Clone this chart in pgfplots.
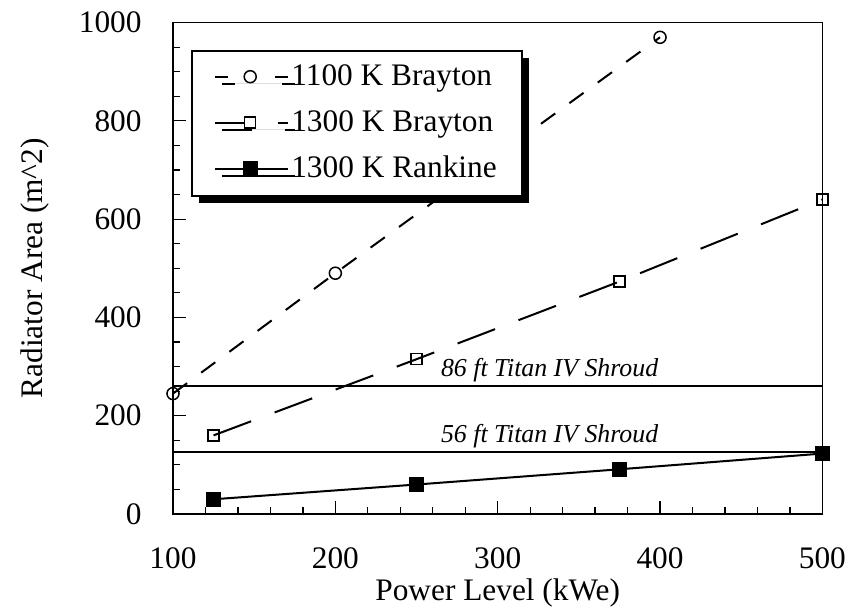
\documentclass[border=0pt]{standalone}
\usepackage{pgfplots}
\pgfplotsset{compat=1.18}
\usepackage{fontspec}
\setmainfont{Liberation Serif}
\usetikzlibrary{shadows}

\begin{document}
\begin{tikzpicture}
\useasboundingbox (-69pt,-37pt) rectangle (274pt,205pt);
\begin{axis}[
  at={(0,0)}, anchor=south west,
  scale only axis, width=259pt, height=196pt,
  xmin=100, xmax=500, ymin=0, ymax=1000,
  clip=false,
  xtick={100,200,...,500}, ytick={0,200,...,1000},
  minor x tick num=4, minor y tick num=3,
  tick pos=left, tick align=inside,
  major tick length=5pt, minor tick length=2.8pt,
  axis line style={line width=0.5pt},
  every tick/.style={black, line width=0.5pt},
  /pgf/number format/assume math mode=true,
  /pgf/number format/1000 sep={},
  tick label style={font=\fontsize{12.5}{14}\selectfont},
  xticklabel style={yshift=-10pt},
  yticklabel style={xshift=-9pt},
  xlabel={Power Level (kWe)},
  ylabel={Radiator Area (m\textasciicircum 2)},
  label style={font=\fontsize{12.5}{15}\selectfont},
  xlabel style={at={(axis description cs:0.5,-0.161)}, anchor=center},
  ylabel style={at={(axis description cs:-0.212,0.5)}, anchor=center},
  legend image code/.code={\draw[mark repeat=2,mark phase=2,#1] plot coordinates {(0pt,0pt)(14pt,0pt)(29pt,0pt)};},
  legend cell align=left,
  legend style={at={(axis description cs:0.027,0.945)}, anchor=north west,
    draw=black, line width=0.8pt, fill=white,
    drop shadow={shadow xshift=2.8pt, shadow yshift=-2.8pt, fill=black, opacity=1},
    font=\fontsize{12.5}{14}\selectfont,
    nodes={inner xsep=1pt, inner ysep=2.5pt},
    row sep=3.5pt, inner xsep=9pt, inner ysep=3pt},
]
\addplot[black, line width=0.8pt, dash pattern=on 7pt off 7pt,
  mark=o, mark size=2.4pt, mark options={solid, line width=0.6pt},
  legend image post style={dash pattern=on 5pt off 19pt}]
  coordinates {(100,245)(200,490)(400,970)};
\addlegendentry{1100 K Brayton}
\addplot[black, line width=0.8pt, dash pattern=on 16pt off 10pt,
  mark=square, mark size=2.2pt, mark options={solid, line width=0.6pt},
  legend image post style={dash pattern=on 12pt off 13pt}]
  coordinates {(125,160)(250,315)(375,473)(500,640)};
\addlegendentry{1300 K Brayton}
\addplot[black, line width=0.8pt, mark=square*, mark size=2.6pt]
  coordinates {(125,30)(250,60)(375,91)(500,123)};
\addlegendentry{1300 K Rankine}
\addplot[black, line width=0.7pt, forget plot] coordinates {(100,260)(500,260)};
\addplot[black, line width=0.7pt, forget plot] coordinates {(100,126)(500,126)};
\node[anchor=south, font=\itshape\fontsize{10.3}{12}\selectfont, inner sep=1.5pt] at (axis cs:332,260) {86 ft Titan IV Shroud};
\node[anchor=south, font=\itshape\fontsize{10.3}{12}\selectfont, inner sep=1.5pt] at (axis cs:332,126) {56 ft Titan IV Shroud};
\end{axis}
\end{tikzpicture}
\end{document}
